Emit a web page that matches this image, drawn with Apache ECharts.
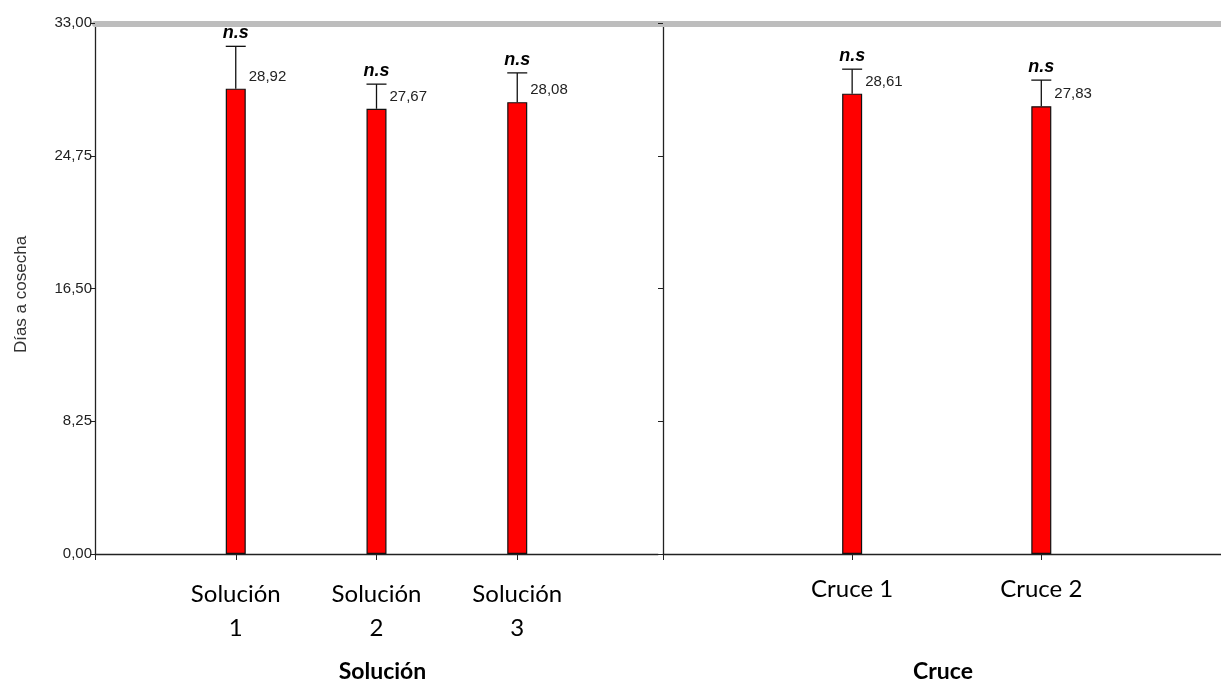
<!DOCTYPE html>
<html>
<head>
<meta charset="utf-8">
<script src="https://cdn.jsdelivr.net/npm/echarts@6/dist/echarts.min.js"></script>
<style>html,body{margin:0;padding:0;background:#fff}#c{width:1221px;height:681px}</style>
</head>
<body>
<div id="c"></div>
<script>
const solCategories = ['Solución\n1', 'Solución\n2', 'Solución\n3'];
const solValues = [28.92, 27.67, 28.08];
const solUpper = [31.55, 29.20, 29.90];
const solSig = ['n.s', 'n.s', 'n.s'];
const cruceCategories = ['Cruce 1', 'Cruce 2'];
const cruceValues = [28.61, 27.83];
const cruceUpper = [30.13, 29.45];
const cruceSig = ['n.s', 'n.s'];
const yMin = 0, yMax = 33, yStep = 8.25;
const yTitle = 'Días a cosecha';
const xTitles = ['Solución', 'Cruce'];

const fmt = v => v.toFixed(2).replace('.', ',');
const toBars = vals => vals.map((v, i) => [i + 1, v]);
const toErr = (vals, ups, sig) => vals.map((v, i) => [i + 1, v, ups[i], sig[i]]);

function renderErr(params, api) {
  const x = api.value(0), v = api.value(1), up = api.value(2);
  const sig = api.value(3);
  const base = api.coord([x, v]);
  const top = api.coord([x, up]);
  const half = 10;
  return {
    type: 'group',
    children: [
      {type: 'line', shape: {x1: base[0], y1: base[1], x2: top[0], y2: top[1]}, style: {stroke: '#111', lineWidth: 1.3}},
      {type: 'line', shape: {x1: top[0] - half, y1: top[1], x2: top[0] + half, y2: top[1]}, style: {stroke: '#111', lineWidth: 1.3}},
      {type: 'text', x: top[0], y: top[1] - 13, style: {text: sig, font: 'italic bold 18px "Liberation Sans", Arial', fill: '#000', align: 'center', verticalAlign: 'middle'}},
      {type: 'text', x: base[0] + 13, y: base[1] - 12, style: {text: fmt(v), font: '15px "Liberation Sans", Arial', fill: '#222', align: 'left', verticalAlign: 'middle'}}
    ]
  };
}

function xAxisFor(gridIndex, cats, max, title, margin, titlePad) {
  const vals = cats.map((c, i) => i + 1);
  return {
    type: 'value', gridIndex: gridIndex, min: 0, max: max,
    axisLine: {show: true, onZero: false, lineStyle: {color: '#222', width: 1.3}},
    axisTick: {show: true, length: 6, customValues: [0].concat(vals), lineStyle: {color: '#222'}},
    axisLabel: {show: true, margin: margin, customValues: vals, formatter: v => cats[Math.round(v) - 1] || '',
      fontFamily: 'Lato', fontSize: 24, color: '#000', lineHeight: 34},
    splitLine: {show: false},
    name: title, nameLocation: 'middle', nameGap: 106,
    nameTextStyle: {fontFamily: 'Lato', fontWeight: 'bold', fontSize: 23, color: '#000', padding: [0, 0, 0, titlePad]}
  };
}

const option = {
  animation: false,
  backgroundColor: '#fff',
  grid: [
    {left: 95, right: 1221 - 658, top: 23, bottom: 127, outerBoundsMode: 'none', containLabel: false},
    {left: 663, right: 0, top: 23, bottom: 127, outerBoundsMode: 'none', containLabel: false},
    {left: 95, right: 0, top: 23, height: 1, outerBoundsMode: 'none', containLabel: false}
  ],
  xAxis: [
    xAxisFor(0, solCategories, 4, xTitles[0], 23, 12),
    xAxisFor(1, cruceCategories, 2.95, xTitles[1], 18, 2),
    {type: 'value', gridIndex: 2, position: 'top', min: 0, max: 1,
     axisLine: {show: true, lineStyle: {color: '#bdbdbd', width: 6}},
     axisTick: {show: false}, axisLabel: {show: false}, splitLine: {show: false}}
  ],
  yAxis: [
    {type: 'value', gridIndex: 0, min: yMin, max: yMax, interval: yStep,
     axisLine: {show: true, lineStyle: {color: '#222', width: 1.3}},
     axisTick: {show: true, length: 5, lineStyle: {color: '#222'}},
     axisLabel: {show: true, margin: 3, formatter: fmt, fontFamily: '"Liberation Sans", Arial', fontSize: 15, color: '#222'},
     splitLine: {show: false},
     name: yTitle, nameLocation: 'middle', nameGap: 65, nameRotate: 90,
     nameTextStyle: {fontFamily: '"Liberation Sans", Arial', fontSize: 17, color: '#333', padding: [0, 12, 0, 0]}},
    {type: 'value', gridIndex: 1, min: yMin, max: yMax, interval: yStep,
     axisLine: {show: true, lineStyle: {color: '#222', width: 1.3}},
     axisTick: {show: true, length: 5, lineStyle: {color: '#222'}},
     axisLabel: {show: false}, splitLine: {show: false}},
    {type: 'value', gridIndex: 2, show: false, min: 0, max: 1}
  ],
  series: [
    {type: 'bar', xAxisIndex: 0, yAxisIndex: 0, data: toBars(solValues), barWidth: 20,
     itemStyle: {color: '#ff0000', borderColor: '#111', borderWidth: 1.2}},
    {type: 'custom', xAxisIndex: 0, yAxisIndex: 0, data: toErr(solValues, solUpper, solSig), renderItem: renderErr, z: 5,
     encode: {x: 0, y: [1, 2]}},
    {type: 'bar', xAxisIndex: 1, yAxisIndex: 1, data: toBars(cruceValues), barWidth: 20,
     itemStyle: {color: '#ff0000', borderColor: '#111', borderWidth: 1.2}},
    {type: 'custom', xAxisIndex: 1, yAxisIndex: 1, data: toErr(cruceValues, cruceUpper, cruceSig), renderItem: renderErr, z: 5,
     encode: {x: 0, y: [1, 2]}}
  ]
};

const chart = echarts.init(document.getElementById('c'), null, {renderer: 'canvas'});
chart.setOption(option);
</script>
</body>
</html>
